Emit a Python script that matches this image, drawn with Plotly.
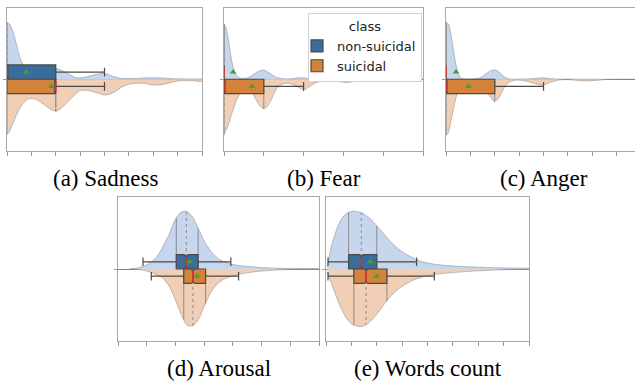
import numpy as np
import plotly.graph_objects as go

# ---------------- data (x in axis-tick units, densities scaled so peak = 0.8) ----------------
features = ["Sadness", "Fear", "Anger", "Arousal", "Words count"]
captions = ["(a) Sadness", "(b) Fear", "(c) Anger", "(d) Arousal", "(e) Words count"]
classes = ["non-suicidal", "suicidal"]

sadness_x = [0, 0.1, 0.25, 0.4, 0.55, 0.7, 0.9, 1.2, 1.5, 1.8, 2.0, 2.2, 2.45, 2.65, 2.85, 3.05,
             3.3, 3.55, 3.8, 4.0, 4.2, 4.45, 4.7, 5.0, 5.3, 5.6, 5.9, 6.2, 6.5, 6.9, 7.3, 7.7, 8.0]
sadness_nonsuicidal = [0.79, 0.77, 0.66, 0.47, 0.28, 0.19, 0.15, 0.14, 0.145, 0.15, 0.15, 0.13, 0.09,
                       0.05, 0.02, 0.02, 0.035, 0.06, 0.075, 0.08, 0.06, 0.03, 0.012, 0.01, 0.012,
                       0.018, 0.022, 0.02, 0.015, 0.006, 0.005, 0.005, 0.005]
sadness_suicidal = [0.77, 0.73, 0.61, 0.49, 0.39, 0.32, 0.27, 0.28, 0.35, 0.42, 0.445, 0.41, 0.33,
                    0.26, 0.19, 0.155, 0.155, 0.175, 0.20, 0.22, 0.21, 0.17, 0.11, 0.07, 0.055,
                    0.056, 0.075, 0.08, 0.065, 0.03, 0.018, 0.024, 0.032]

fear_x = [0, 0.05, 0.1, 0.15, 0.2, 0.25, 0.3, 0.4, 0.5, 0.6, 0.7, 0.8, 0.9, 1.0, 1.1, 1.2, 1.3,
          1.45, 1.6, 1.75, 1.9, 2.0, 2.1, 2.3, 2.5, 2.8, 3.1, 3.4, 3.7, 4.0, 4.5, 5.0]
fear_nonsuicidal = [0.77, 0.72, 0.58, 0.40, 0.24, 0.13, 0.06, 0.015, 0.01, 0.02, 0.05, 0.09, 0.12,
                    0.13, 0.10, 0.065, 0.03, 0.01, 0.005, 0.01, 0.02, 0.02, 0.015, 0.006, 0.003,
                    0.002, 0.002, 0.002, 0.001, 0.001, 0, 0]
fear_suicidal = [0.77, 0.71, 0.65, 0.56, 0.47, 0.39, 0.31, 0.19, 0.13, 0.10, 0.17, 0.28, 0.37,
                 0.41, 0.37, 0.27, 0.15, 0.07, 0.055, 0.075, 0.12, 0.15, 0.12, 0.05, 0.025,
                 0.03, 0.045, 0.02, 0.014, 0.018, 0.003, 0]

anger_x = [0, 0.1, 0.2, 0.3, 0.4, 0.5, 0.6, 0.75, 0.9, 1.1, 1.3, 1.5, 1.7, 1.85, 2.0, 2.15, 2.3,
           2.45, 2.65, 2.9, 3.2, 3.5, 3.75, 4.0, 4.3, 4.6, 5.0, 5.5, 6.0, 6.5, 7.0, 7.75]
anger_nonsuicidal = [0.79, 0.77, 0.63, 0.42, 0.22, 0.08, 0.02, 0.005, 0.002, 0.004, 0.012, 0.04,
                     0.09, 0.12, 0.13, 0.11, 0.06, 0.02, 0.003, 0.002, 0.004, 0.008, 0.015, 0.02,
                     0.008, 0.003, 0.002, 0.001, 0.001, 0, 0, 0]
anger_suicidal = [0.78, 0.74, 0.58, 0.42, 0.27, 0.15, 0.08, 0.04, 0.03, 0.035, 0.05, 0.10, 0.19,
                  0.26, 0.31, 0.27, 0.17, 0.08, 0.03, 0.012, 0.02, 0.045, 0.07, 0.08, 0.04,
                  0.012, 0.005, 0.02, 0.02, 0.006, 0.002, 0.003]

arousal_x = [0.4, 0.75, 1.1, 1.35, 1.55, 1.8, 2.0, 2.2, 2.4, 2.6, 2.8, 3.0, 3.25, 3.5, 3.75, 4.0,
             4.4, 4.9, 5.5, 6.2, 7.0]
arousal_nonsuicidal = [0, 0.02, 0.08, 0.17, 0.30, 0.50, 0.69, 0.79, 0.80, 0.72, 0.56, 0.39, 0.24,
                       0.14, 0.09, 0.062, 0.04, 0.022, 0.011, 0.008, 0.005]
arousal_suicidal = [0, 0.008, 0.04, 0.08, 0.12, 0.25, 0.43, 0.63, 0.78, 0.79, 0.70, 0.52, 0.31,
                    0.19, 0.13, 0.095, 0.06, 0.032, 0.015, 0.005, 0.002]

words_x = [0.05, 0.2, 0.4, 0.6, 0.8, 1.0, 1.2, 1.4, 1.6, 1.8, 2.0, 2.25, 2.5, 2.75, 3.0, 3.4, 3.8,
           4.3, 5.0, 6.0, 7.0, 8.0]
words_nonsuicidal = [0.03, 0.30, 0.53, 0.69, 0.77, 0.80, 0.80, 0.78, 0.74, 0.68, 0.60, 0.50, 0.40,
                     0.31, 0.24, 0.16, 0.10, 0.065, 0.042, 0.025, 0.015, 0.01]
words_suicidal = [0.04, 0.18, 0.38, 0.55, 0.68, 0.76, 0.79, 0.80, 0.77, 0.71, 0.63, 0.51, 0.40,
                  0.31, 0.24, 0.16, 0.11, 0.075, 0.05, 0.025, 0.01, 0.005]

# box statistics per feature (same order as `features`)
nonsuicidal_q1 = [0, 0, 0, 2.03, 0.89]
nonsuicidal_median = [0, 0, 0, 2.38, 1.39]
nonsuicidal_q3 = [2.0, 0, 0, 2.79, 2.0]
nonsuicidal_lower = [0, 0, 0, 0.87, 0.08]
nonsuicidal_upper = [4.0, 0, 0, 3.93, 3.57]
nonsuicidal_mean = [0.79, 0.23, 0.41, 2.50, 1.74]

suicidal_q1 = [0, 0, 0, 2.29, 1.10]
suicidal_median = [2.0, 0, 0, 2.61, 1.58]
suicidal_q3 = [2.0, 1.0, 2.0, 3.05, 2.40]
suicidal_lower = [0, 0, 0, 1.16, 0.08]
suicidal_upper = [4.0, 2.0, 4.0, 4.20, 4.27]
suicidal_mean = [1.82, 0.70, 0.93, 2.75, 2.0]

# ---------------- styling / layout ----------------
W, H = 635, 383
frames = [(7, 202, 7.5, 151), (224, 423, 7.5, 151), (446, 635, 7.5, 151),
          (118, 319, 197, 341), (326, 529, 197, 341)]
xmax = [8, 5, 7.75, 7, 8]
tickmax = [8, 5, 7, 7, 8]
notched = [False, False, False, True, True]
caption_pos = [(105, 178), (324, 178), (544, 178), (219, 368), (428, 368)]

BOX_COL = ["#3a6d9c", "#d4843a"]
VIO_COL = ["#c6d6ed", "#f1cfb7"]
VIO_EDGE = "rgba(115,115,115,0.55)"
Q_COL = "#8c8c8c"

xs = [sadness_x, fear_x, anger_x, arousal_x, words_x]
dens = [[sadness_nonsuicidal, sadness_suicidal], [fear_nonsuicidal, fear_suicidal],
        [anger_nonsuicidal, anger_suicidal], [arousal_nonsuicidal, arousal_suicidal],
        [words_nonsuicidal, words_suicidal]]
stats = [
    [nonsuicidal_q1, nonsuicidal_median, nonsuicidal_q3, nonsuicidal_lower, nonsuicidal_upper, nonsuicidal_mean],
    [suicidal_q1, suicidal_median, suicidal_q3, suicidal_lower, suicidal_upper, suicidal_mean],
]


def ax(prefix, n):
    return prefix if n == 1 else f"{prefix}{n}"


fig = go.Figure()
layout = dict(width=W, height=H, margin=dict(l=0, r=0, t=0, b=0),
              paper_bgcolor="white", plot_bgcolor="white", showlegend=True)

for i in range(5):
    n, m = i + 1, i + 6
    l, r, t, b = frames[i]
    dx = [l / W, min(r / W, 1.0)]
    dy = [1 - b / H, 1 - t / H]
    layout[ax("xaxis", n)] = dict(domain=dx, range=[0, xmax[i]], anchor=ax("y", n),
                                  tickvals=list(range(tickmax[i] + 1)), ticks="outside", ticklen=4,
                                  tickcolor="#9a9a9a", showticklabels=False, showline=True, mirror=True,
                                  linecolor="#a8a8a8", linewidth=1, showgrid=False, zeroline=False,
                                  layer="above traces")
    layout[ax("yaxis", n)] = dict(domain=dy, range=[-1, 1], anchor=ax("x", n), tickvals=[0],
                                  ticks="outside", ticklen=3, tickcolor="#9a9a9a", showticklabels=False,
                                  showline=True, mirror=True, linecolor="#a8a8a8", linewidth=1,
                                  showgrid=False, zeroline=True, zerolinecolor="#858585",
                                  zerolinewidth=1, layer="above traces")
    layout[f"xaxis{m}"] = dict(domain=dx, range=[0, xmax[i]], overlaying=ax("x", n),
                               anchor=f"y{m}", visible=False)
    layout[f"yaxis{m}"] = dict(domain=dy, range=[-1, 1], overlaying=ax("y", n),
                               anchor=f"x{m}", visible=False)

    xa, ya = ax("x", n), ax("y", n)
    xo, yo = f"x{m}", f"y{m}"
    for c in range(2):
        sign = 1 if c == 0 else -1
        d = np.array(dens[i][c])
        fig.add_trace(go.Scatter(x=xs[i], y=sign * d, mode="lines", fill="tozeroy",
                                 fillcolor=VIO_COL[c], line=dict(color=VIO_EDGE, width=0.8, shape="spline",
                                                                 smoothing=0.7),
                                 xaxis=xa, yaxis=ya, showlegend=False, hoverinfo="skip"))
    # quartile lines inside the violins
    for c in range(2):
        sign = 1 if c == 0 else -1
        q1, med, q3 = stats[c][0][i], stats[c][1][i], stats[c][2][i]
        solid_x, solid_y = [], []
        for q in (q1, q3):
            h = float(np.interp(q, xs[i], dens[i][c]))
            solid_x += [q, q, None]
            solid_y += [0, sign * h, None]
        hm = float(np.interp(med, xs[i], dens[i][c]))
        fig.add_trace(go.Scatter(x=solid_x, y=solid_y, mode="lines", line=dict(color=Q_COL, width=1),
                                 xaxis=xa, yaxis=ya, showlegend=False, hoverinfo="skip"))
        fig.add_trace(go.Scatter(x=[med, med], y=[0, sign * hm], mode="lines",
                                 line=dict(color=Q_COL, width=1, dash="dot"),
                                 xaxis=xa, yaxis=ya, showlegend=False, hoverinfo="skip"))
    # boxes on overlay axes
    for c in range(2):
        sign = 1 if c == 0 else -1
        q1, med, q3, lo, hi, mean = (s[i] for s in stats[c])
        box_kw = dict(notched=True, notchspan=[0.07], notchwidth=0.12) if notched[i] else {}
        fig.add_trace(go.Box(y=[sign * 0.1], q1=[q1], median=[med], q3=[q3], lowerfence=[lo],
                             upperfence=[hi], orientation="h", width=0.2, fillcolor=BOX_COL[c],
                             line=dict(color="#4a4a4a", width=1.2), whiskerwidth=0.6, boxpoints=False,
                             name=classes[c], legendgroup=classes[c], showlegend=(i == 0),
                             xaxis=xo, yaxis=yo, hoverinfo="skip", **box_kw))
        fig.add_trace(go.Scatter(x=[med, med], y=[sign * 0.035, sign * 0.165], mode="lines",
                                 line=dict(color="#e0302a", width=1.6), xaxis=xo, yaxis=yo,
                                 showlegend=False, hoverinfo="skip"))
        fig.add_trace(go.Scatter(x=[mean], y=[sign * 0.1], mode="markers",
                                 marker=dict(symbol="triangle-up", size=6, color="#3aa33a"),
                                 xaxis=xo, yaxis=yo, showlegend=False, hoverinfo="skip"))

annotations = []
for i in range(5):
    cx, cy = caption_pos[i]
    annotations.append(dict(text=captions[i], x=cx / W, y=1 - cy / H, xref="paper", yref="paper",
                            xanchor="center", yanchor="middle", showarrow=False,
                            font=dict(family="Liberation Serif", size=23, color="black")))
layout["annotations"] = annotations
layout["legend"] = dict(x=422 / W, xanchor="right", y=1 - 13 / H, yanchor="top", bgcolor="white",
                        bordercolor="#d0d0d0", borderwidth=1, itemwidth=30, tracegroupgap=0,
                        indentation=-12,
                        font=dict(family="DejaVu Sans", size=13, color="#222222"),
                        title=dict(text="class", side="top center",
                                   font=dict(family="DejaVu Sans", size=13, color="#222222")))

fig.update_layout(**layout)
fig.write_html("out.html", config={"displayModeBar": False},
               post_script="document.body.style.margin='0px';")
